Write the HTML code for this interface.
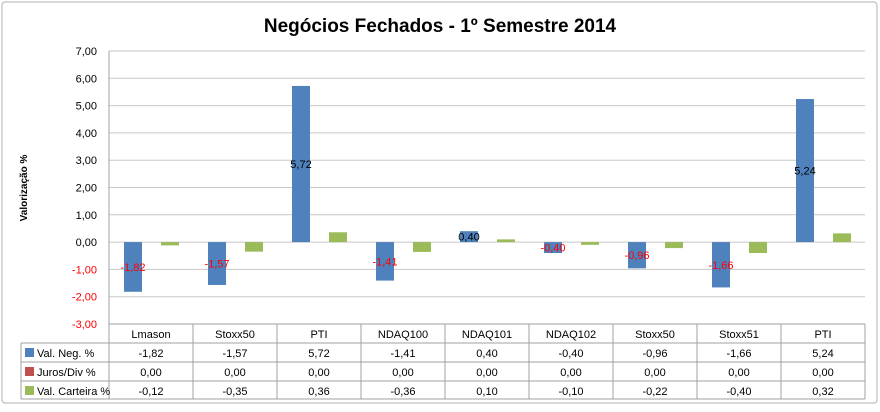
<!DOCTYPE html>
<html><head><meta charset="utf-8"><style>
body{margin:0;background:#fff;font-family:"Liberation Sans",sans-serif;}
svg text{font-family:"Liberation Sans",sans-serif;}
</style></head><body>
<svg id="c" width="880" height="407">
<rect x="2" y="2" width="875" height="401" rx="3" fill="#fff" stroke="#b0b0b0"/>
<text x="440" y="32" text-anchor="middle" font-size="19" font-weight="bold" fill="#000">Negócios Fechados - 1º Semestre 2014</text>
<text transform="translate(27,188) rotate(-90)" text-anchor="middle" font-size="10" font-weight="bold">Valorização %</text>
<g id="g"></g>
</svg>
<script>
const categories=["Lmason","Stoxx50","PTI","NDAQ100","NDAQ101","NDAQ102","Stoxx50","Stoxx51","PTI"];
const valNeg=[-1.82,-1.57,5.72,-1.41,0.40,-0.40,-0.96,-1.66,5.24];
const juros=[0,0,0,0,0,0,0,0,0];
const valCart=[-0.12,-0.35,0.36,-0.36,0.10,-0.10,-0.22,-0.40,0.32];
const yTicks=[7,6,5,4,3,2,1,0,-1,-2,-3];
const seriesNames=["Val. Neg. %","Juros/Div %","Val. Carteira %"];
const colors=["#4f81bd","#c0504d","#9bbb59"];
const X0=109,CW=84,YMAX=7,YMIN=-3,YT=51,YB=324;
const y=v=>YT+(YMAX-v)*(YB-YT)/(YMAX-YMIN);
const fmt=v=>v.toFixed(2).replace('.',',');
const NS="http://www.w3.org/2000/svg",g=document.getElementById('g');
function mk(t,a,txt){const e=document.createElementNS(NS,t);for(const k in a)e.setAttribute(k,a[k]);if(txt!==undefined)e.textContent=txt;g.appendChild(e);return e;}
const X1=X0+CW*categories.length;
yTicks.forEach(t=>{
 const l=mk('line',{x1:X0,x2:X1,y1:y(t),y2:y(t),stroke:'#c8c8c8'});
 
 
 const tx=mk('text',{x:97,y:y(t)+4,'text-anchor':'end','font-size':11,fill:t<0?'#ff0000':'#000'},fmt(t));
 
 
});
const ax=mk('line',{x1:X0,x2:X0,y1:YT,y2:YB,stroke:'#a0a0a0'});


const series=[valNeg,juros,valCart];
const offs=[15,33,52],BW=18;
categories.forEach((c,i)=>{
 series.forEach((s,k)=>{
  const v=s[i];if(v===0)return;
  const b=mk('rect',{x:X0+CW*i+offs[k],y:Math.min(y(0),y(v)),width:BW,height:Math.abs(y(v)-y(0)),fill:colors[k]});
  
  
 });
 const v=valNeg[i];
 const lb=mk('text',{x:X0+CW*i+offs[0]+BW/2,y:(y(0)+y(v))/2+4,'text-anchor':'middle','font-size':11,fill:v<0?'#ff0000':'#000'},fmt(v));
 
 
});
// table
const rows=[324,343,362,381,399],TL=21;
const tg='#a0a0a0';
[[X0,X1,324],[TL,X1,343],[TL,X1,362],[TL,X1,381],[TL,X1,399]].forEach(r=>{
 const l=mk('line',{x1:r[0],x2:r[1],y1:r[2],y2:r[2],stroke:tg});
 
 
});
mk('line',{x1:TL,x2:TL,y1:343,y2:399,stroke:tg});
for(let i=0;i<=categories.length;i++){
 const l=mk('line',{x1:X0+CW*i,x2:X0+CW*i,y1:i===0?YT:324,y2:399,stroke:tg});
 
 
}
categories.forEach((c,i)=>{
 const t=mk('text',{x:X0+CW*i+CW/2,y:338,'text-anchor':'middle','font-size':11},c);
 
 
 series.forEach((s,k)=>{
  const tv=mk('text',{x:X0+CW*i+CW/2,y:rows[k+1]+14,'text-anchor':'middle','font-size':11},fmt(s[i]));
  
  
 });
});
seriesNames.forEach((n,k)=>{
 const r=mk('rect',{x:25,y:rows[k+1]+5,width:9,height:9,fill:colors[k]});
 
 
 const t=mk('text',{x:37,y:rows[k+1]+14,'font-size':11},n);
 
 
});
</script>
</body></html>
